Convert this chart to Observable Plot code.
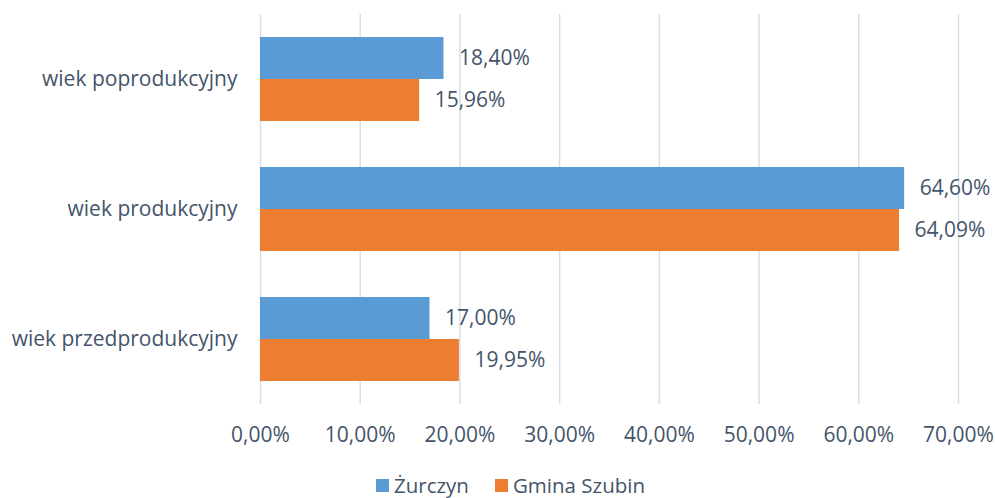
<!DOCTYPE html>
<html>
<head>
<meta charset="utf-8">
<script src="https://cdn.jsdelivr.net/npm/d3@7"></script>
<script src="https://cdn.jsdelivr.net/npm/@observablehq/plot@0.6"></script>
<style>
  html, body { margin: 0; padding: 0; background: #fff; }
  #wrap { width: 995px; height: 498px; overflow: hidden; font-family: "Open Sans", Lato, sans-serif; color: #44546A; }
  .legend { display: flex; justify-content: center; gap: 26px; font-size: 20.5px; line-height: 20px; margin-top: 5px; margin-left: 26px; }
  .legend span { display: inline-flex; align-items: center; }
  .legend i { display: inline-block; width: 13px; height: 13px; margin-right: 5px; }
</style>
</head>
<body>
<div id="wrap"></div>
<script>
const categories = ["wiek poprodukcyjny", "wiek produkcyjny", "wiek przedprodukcyjny"];
const series = ["Żurczyn", "Gmina Szubin"];
const zurczyn = [18.40, 64.60, 17.00];
const szubin = [15.96, 64.09, 19.95];
const xTicks = [0, 10, 20, 30, 40, 50, 60, 70];
const colors = ["#5B9BD5", "#ED7D31"];

const fmt = d => d.toFixed(2).replace(".", ",") + "%";

const data = [];
categories.forEach((c, i) => {
  data.push({category: c, series: series[0], value: zurczyn[i]});
  data.push({category: c, series: series[1], value: szubin[i]});
});

const chart = Plot.plot({
  width: 995,
  height: 470,
  marginLeft: 260,
  marginRight: 37,
  marginTop: 14,
  marginBottom: 66,
  style: {fontFamily: "'Open Sans', Lato, sans-serif", fontSize: "21px", color: "#44546A", background: "#fff"},
  x: {domain: [0, 70], axis: null},
  y: {domain: series, axis: null, paddingInner: 0, paddingOuter: 0.512},
  fy: {domain: categories, padding: 0, axis: null},
  color: {domain: series, range: colors},
  marks: [
    Plot.gridX(xTicks, {stroke: "#D9DEE6", strokeOpacity: 1, strokeWidth: 1.5}),
    Plot.barX(data, {fy: "category", y: "series", x: "value", fill: "series"}),
    Plot.text(data, {fy: "category", y: "series", x: "value", text: d => fmt(d.value), textAnchor: "start", dx: 15, fill: "#44546A", fontSize: 21}),
    Plot.axisFy({anchor: "left", tickSize: 0, tickPadding: 23, label: null, fontSize: 21}),
    Plot.axisX(xTicks, {anchor: "bottom", tickSize: 0, tickPadding: 23, tickFormat: fmt, label: null, fontSize: 21})
  ]
});

const wrap = document.getElementById("wrap");
wrap.appendChild(chart);
const legend = document.createElement("div");
legend.className = "legend";
series.forEach((s, i) => {
  const item = document.createElement("span");
  const sw = document.createElement("i");
  sw.style.background = colors[i];
  item.appendChild(sw);
  item.appendChild(document.createTextNode(s));
  legend.appendChild(item);
});
wrap.appendChild(legend);
</script>
</body>
</html>
